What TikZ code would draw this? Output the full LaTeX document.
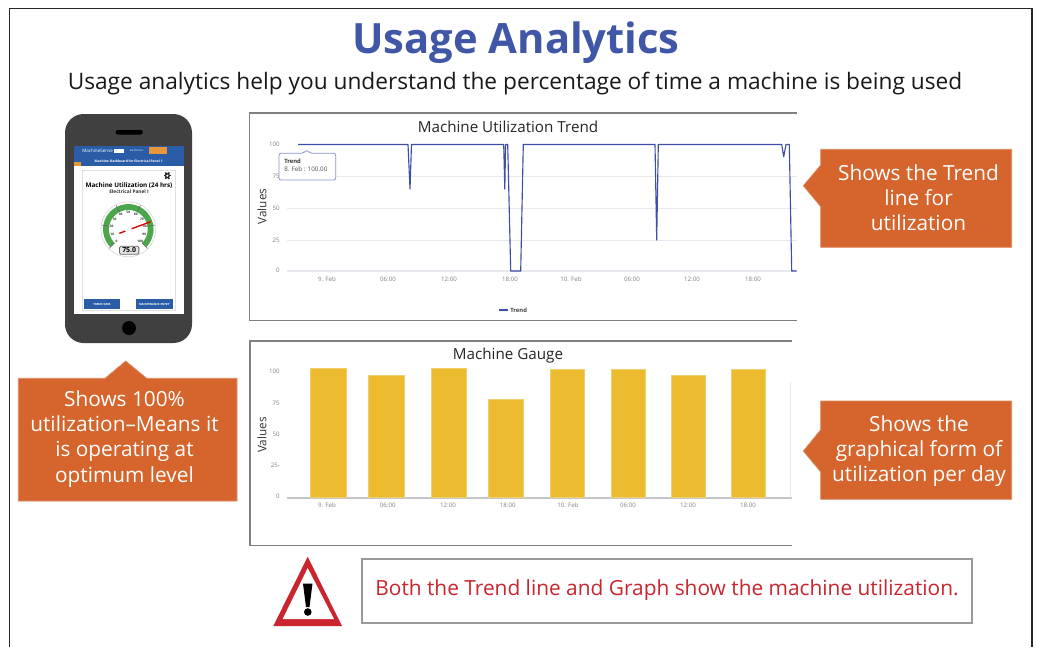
\documentclass[tikz,border=0pt]{standalone}
\usepackage{fontspec}
\setmainfont{Open Sans}
\definecolor{titleblue}{HTML}{3F57A6}
\definecolor{callout}{HTML}{D5652D}
\definecolor{warnred}{HTML}{C9252F}
\definecolor{trendline}{HTML}{3F4EA6}
\definecolor{barfill}{HTML}{EDBB30}
\definecolor{gridc}{HTML}{E6E9EE}
\definecolor{framec}{HTML}{808080}
\definecolor{phonec}{HTML}{404040}
\definecolor{hdrblue}{HTML}{2A5CA8}
\definecolor{gaugegreen}{HTML}{4CA64C}
\definecolor{btnorange}{HTML}{E8963A}
\newcommand{\fs}[1]{\fontsize{#1}{#1}\selectfont}
\tikzset{
  calloutshape/.style={fill=callout,draw=callout!75!white,line width=0.5pt},
  callouttext/.style={text=white,align=center,inner sep=0pt,font=\fontsize{15.6}{18.8}\selectfont},
  frameline/.style={draw=framec,line width=1.1pt},
  grid line/.style={draw=gridc,line width=0.8pt},
  ticklabel/.style={text=black!50,inner sep=0pt,font=\fs{4.6}},
  chart title/.style={text=black!85,inner sep=0pt,font=\fs{11.4}},
  axis title/.style={text=black!80,inner sep=0pt,rotate=90,font=\fs{8.8}},
  bar/.style={fill=barfill,draw=barfill!70!white,line width=0.4pt},
  tiny/.style={inner sep=0pt,font=\fs{2.2}},
}
\begin{document}
\begin{tikzpicture}[x=0.75pt,y=-0.75pt]
\useasboundingbox (0,0) rectangle (1037,647);
\fill[white] (0,0) rectangle (1037,647);
% outer frame
\draw[black!85,line width=1.2pt] (9.5,647) -- (9.5,8.5) -- (1032,8.5) -- (1032,647);
% headings
\node[inner sep=0pt,text=titleblue,font=\bfseries\fs{31.3}] (title) at (516,43) {Usage Analytics};
\node[inner sep=0pt,text=black!90,font=\fs{17.02}] (subtitle) at (515,84) {Usage analytics help you understand the percentage of time a machine is being used};

% ---------- phone
\fill[phonec,rounded corners=14pt] (65,114) rectangle (192,343);
\fill[black,rounded corners=1.5pt] (115.7,130) rectangle (142.7,134.5);
\fill[black] (129,328) circle [radius=7];
\fill[white] (74,146) rectangle (184.3,314.3);
\fill[hdrblue] (74,146) rectangle (184.3,166);
\fill[btnorange] (149,146.7) rectangle (166.7,154.3);
\fill[btnorange] (74,161.7) rectangle (80.7,165.5);
\fill[white] (113.5,149) rectangle (124,152.5);
\node[tiny,text=white,anchor=west,font=\fs{3.4}] (brand) at (82,150.5) {MachineSense};
\node[tiny,text=white,font=\fs{1.8}] (hdrb) at (136.5,150.5) {ELECTRICAL};
\node[tiny,text=white,font=\bfseries\fs{2.5}] (dash) at (128.7,161.5) {Machine Dashboard for Electrical Panel 1};
\draw[black!12,line width=0.6pt] (82.3,170) rectangle (175,310);
\node[inner sep=0pt,text=black,font=\bfseries\fs{4.75}] (mu) at (129,185.5) {Machine Utilization (24 hrs)};
\node[inner sep=0pt,text=black!80,font=\bfseries\fs{3.6}] (ep) at (129,192) {Electrical Panel I};
% gear
\fill[black!85] (167.3,175.7) circle [radius=2.6];
\foreach \a in {0,60,...,300}
  \draw[black!85,line width=1.1pt] (167.3,175.7) -- ({167.3+3.8*cos(\a)},{175.7-3.8*sin(\a)});
\fill[white] (167.3,175.7) circle [radius=1.2];
% gauge
\draw[black!15,fill=white,line width=0.5pt] (128.3,229.3) circle [radius=27.5];
\draw[gaugegreen,line width=4.4pt] plot[domain=225:-45,samples=50] ({128.3+22.3*cos(\x)},{229.3-22.3*sin(\x)});
\foreach \a in {225,171,117,63,9,-45}
  \draw[black!60,line width=0.4pt] ({128.3+19.3*cos(\a)},{229.3-19.3*sin(\a)}) -- ({128.3+27*cos(\a)},{229.3-27*sin(\a)});
\foreach \v/\a in {0/225,10/198,20/171,30/144,40/117,50/90,60/63,70/36,80/9,90/-18,100/-45}
  \node[inner sep=0pt,text=black!80,font=\bfseries\fs{2.4}] (g\v) at ({128.3+16.8*cos(\a)},{229.3-16.8*sin(\a)}) {\v};
\draw[red!85!black,line width=1pt] (119.3,233.3) -- (150.7,221.7);
\fill[white] (128.3,229.3) circle [radius=3.5];
\node[draw=black!60,fill=black!10,rounded corners=1pt,line width=0.6pt,minimum width=14.5pt,minimum height=6pt,inner sep=0pt,text=black,font=\bfseries\fs{5.2}] (readout) at (129.2,250.2) {75.0};
% phone buttons
\node[fill=hdrblue,minimum width=27pt,minimum height=7pt,inner sep=0pt,text=white,font=\bfseries\fs{2.1}] (btna) at (102,304) {TREND DATA};
\node[fill=hdrblue,minimum width=28pt,minimum height=7pt,inner sep=0pt,text=white,font=\bfseries\fs{2.1}] (btnb) at (154.3,304) {MAINTENANCE ENTRY};

% ---------- left callout
\path[calloutshape] (18.3,378.3) -- (105,378.3) -- (125.7,361) -- (146.7,378.3) -- (237,378.3) -- (237,501) -- (18.3,501) -- cycle;
\node[callouttext] (lefttext) at (124.5,439) {Shows 100\%\\utilization–Means it\\is operating at\\optimum level};

% ---------- trend chart
\draw[frameline] (796.7,113) -- (249.3,113) -- (249.3,320.3) -- (796.7,320.3);
\node[chart title] (ctitle1) at (508,127) {Machine Utilization Trend};
\foreach \y in {176.3,208.3,240.3,271}
  \draw[grid line] (287,\y) -- (796.7,\y);
\foreach \v/\y in {100/144,75/176,50/208,25/240,0/270}
  \node[ticklabel,anchor=east] (ty\v) at (280,\y) {\v};
\foreach \n/\l/\x in {a/9. Feb/327,b/06:00/388,c/12:00/449,d/18:00/510,e/10. Feb/571,f/06:00/632,g/12:00/692,h/18:00/753}
  \node[ticklabel] (tx\n) at (\x,279) {\l};
\node[axis title] (val1) at (262,206.5) {Values};
\draw[trendline,line width=0.85pt,line join=round] (298,144.5) -- (408,144.5) -- (410,189) -- (411.5,144.5) -- (503.7,144.5) -- (504.8,189) -- (505.6,144.5) -- (507.7,144.5) -- (510.7,271) -- (520.7,271) -- (523.3,144.5) -- (655,144.5) -- (656.7,240) -- (658.3,144.5) -- (781.7,144.5) -- (783.7,156.7) -- (786,144.5) -- (789.3,144.5) -- (791.7,271) -- (796.7,271);
\draw[trendline!60!white,line width=0.6pt,fill=white,rounded corners=1.5pt] (279,153.3) -- (303.5,153.3) -- (306.7,150) -- (310,153.3) -- (335.7,153.3) -- (335.7,180) -- (279,180) -- cycle;
\node[inner sep=0pt,anchor=west,text=black!80,font=\bfseries\fs{4.4}] (tiptitle) at (284,161) {Trend};
\node[inner sep=0pt,anchor=west,text=black!70,font=\fs{4.7}] (tipval) at (284,169.3) {8. Feb : 100.00};
\draw[trendline,line width=0.8pt] (499,310) -- (508,310);
\node[inner sep=0pt,anchor=west,text=black!75,font=\bfseries\fs{4.4}] (legend) at (510,310) {Trend};

% ---------- gauge chart
\draw[frameline] (791.7,341) -- (250,341) -- (250,545.7) -- (791.7,545.7);
\node[chart title] (ctitle2) at (508,355.5) {Machine Gauge};
\draw[black!15!gridc,line width=0.9pt] (287,498) -- (791.7,498);
\draw[gridc,line width=0.9pt] (790.7,382) -- (790.7,498);
\foreach \xa/\xb/\yt in {310/346/368.3,368.3/404.3/375,431/466.3/368.7,488.3/523.7/399.3,550/584.3/369.3,611/645.3/369.3,671/705.3/375,731/765/369.3}
  \path[bar] (\xa,\yt) rectangle (\xb,497.5);
\foreach \l/\y in {100/371,75/403,50/434.7,25-/465.7,0/496.3}
  \node[ticklabel,anchor=east] at (280,\y) {\l};
\foreach \n/\l/\x in {a/9. Feb/327,b/06:00/387.7,c/12:00/448,d/18:00/507.7,e/10. Feb/568,f/06:00/628,g/12:00/688,h/18:00/748}
  \node[ticklabel] (ux\n) at (\x,505) {\l};
\node[axis title] (val2) at (262,435) {Values};

% ---------- right callouts
\path[calloutshape] (820.7,149.3) -- (1011.7,149.3) -- (1011.7,247.3) -- (820.7,247.3) -- (820.7,206.7) -- (803.3,185.7) -- (820.7,165) -- cycle;
\node[callouttext] (rtext1) at (918.5,198) {Shows the Trend\\line for\\utilization};
\path[calloutshape] (820.7,401) -- (1011.7,401) -- (1011.7,499.3) -- (820.7,499.3) -- (820.7,472) -- (803.3,451) -- (820.7,429.7) -- cycle;
\node[callouttext] (rtext2) at (919,451) {Shows the\\graphical form of\\utilization per day};

% ---------- warning
\fill[warnred] (307.7,556.7) -- (342,626) -- (273.3,626) -- cycle;
\fill[white] (307.7,568) -- (334,619) -- (282.7,619) -- cycle;
\fill[black] (303,583.5) -- (312.5,583.5) -- (309.5,607) -- (306,607) -- cycle;
\fill[black] (307.8,612) circle [radius=3.8];
\node[draw=black!40,line width=1.3pt,minimum width=458pt,minimum height=48pt,inner sep=0pt] (warn) at (667,591) {};
\node[inner sep=0pt,text=warnred,font=\fs{15.65}] (warntext) at (667,590) {Both the Trend line and Graph show the machine utilization.};
\end{tikzpicture}
\end{document}
